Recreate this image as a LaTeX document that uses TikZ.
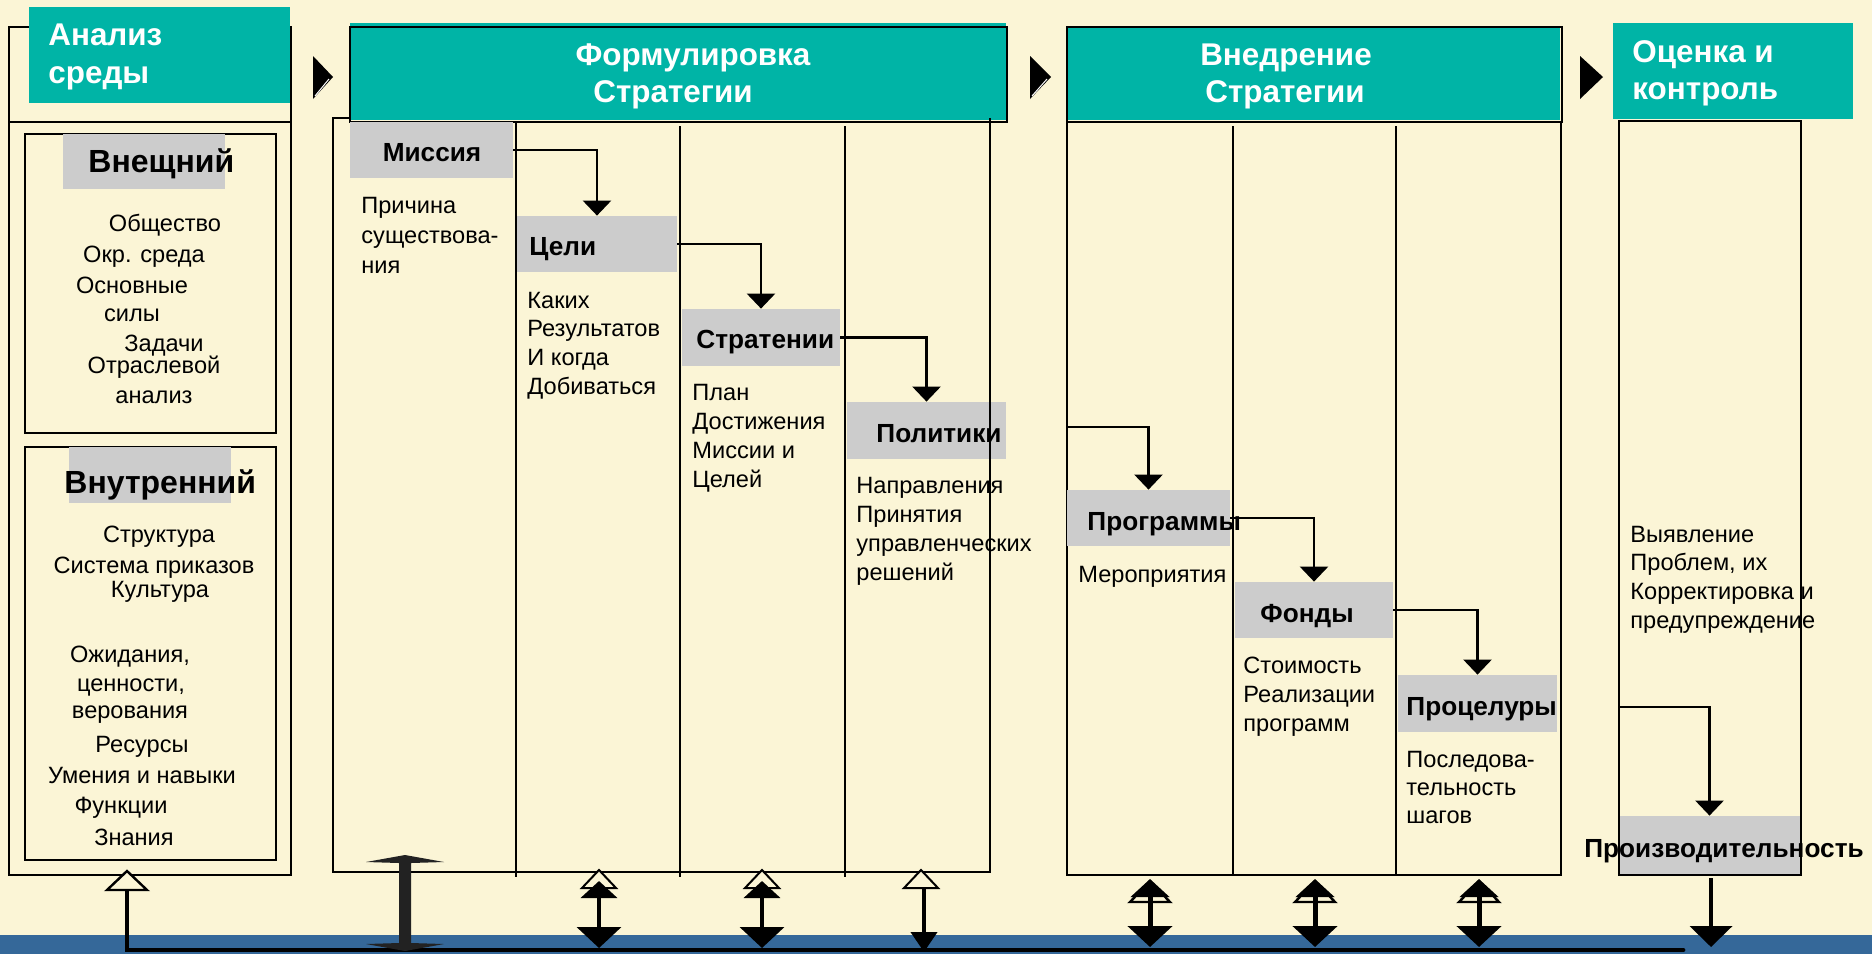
\documentclass[tikz,border=0pt]{standalone}
\usepackage{fontspec}
\setmainfont{Liberation Sans}
\usetikzlibrary{arrows.meta,fit}
\definecolor{bgc}{RGB}{251,245,214}
\definecolor{tealc}{RGB}{0,180,166}
\definecolor{lgray}{RGB}{204,204,204}
\definecolor{bandc}{RGB}{53,104,153}
\definecolor{darkarrow}{RGB}{34,34,34}
\begin{document}
\begin{tikzpicture}[x=0.5pt,y=-0.5pt,
  body/.style={font=\fontsize{11.8pt}{14pt}\selectfont, inner sep=0pt, anchor=base west},
  lab/.style={font=\bfseries\fontsize{13.1pt}{15pt}\selectfont, inner sep=0pt, anchor=base west},
  ttl/.style={font=\bfseries\fontsize{15.7pt}{18pt}\selectfont, text=white, inner sep=0pt},
  gbox/.style={fill=lgray, inner sep=0pt},
  tbox/.style={fill=tealc, inner sep=0pt},
  frame/.style={draw=black, line width=1.4pt},
  thinframe/.style={draw=black, line width=1.2pt},
  divl/.style={draw=black, line width=1pt},
  conn/.style={draw=black, line width=1.25pt, -{Triangle[width=14pt,length=7.5pt]}},
  hollow/.style={draw=black, line width=1pt, fill=bgc},
  dblF/.style={line width=2pt, {Triangle[width=18pt,length=8.5pt]}-{Triangle[width=22pt,length=10.5pt]}},
  dblI/.style={line width=2.5pt, {Triangle[width=19pt,length=9pt]}-{Triangle[width=22pt,length=10.5pt]}},
]
\useasboundingbox (0,0) rectangle (1872,954);
\fill[bgc] (0,0) rectangle (1872,954);
\fill[bandc] (0,935) rectangle (1872,954);

% ---------- Analysis column ----------
\draw[frame] (9,27) rectangle (291,875);
\draw[frame] (9,122) -- (291,122);
\node[tbox, fit={(29,7) (290,103)}] (hA) {};
\node[ttl, anchor=base west] (hA1) at (48,45) {Анализ};
\node[ttl, anchor=base west] (hA2) at (48,83) {среды};
\draw[thinframe] (25,134) rectangle (276,433);
\draw[thinframe] (25,447) rectangle (276,860);
\node[gbox, fit={(63,134) (225,189)}] (gExt) {};
\node[gbox, fit={(69,447) (231,503)}] (gInt) {};
\node[font=\bfseries\fontsize{16pt}{18pt}\selectfont, inner sep=0pt, anchor=base west] (tExt) at (88,172) {Внещний};
\node[font=\bfseries\fontsize{16pt}{18pt}\selectfont, inner sep=0pt, anchor=base west] (tInt) at (64,493) {Внутренний};
\foreach \x/\y/\t [count=\i] in {165/231/Общество, 144/262/Окр. среда, 132/293/Основные, 132/321/силы, 164/351/Задачи, 154/373/Отраслевой, 154/403/анализ}
  \node[body, anchor=base] (ext\i) at (\x,\y) {\t};
\foreach \x/\y/\t [count=\i] in {159/542/Структура, 154/573/Система приказов, 160/597/Культура, 130/662/Ожидания{,}, 131/691/ценности{,}, 130/718/верования, 142/752/Ресурсы, 142/783/Умения и навыки, 121/813/Функции, 134/845/Знания}
  \node[body, anchor=base] (int\i) at (\x,\y) {\t};

% header triangles
\fill (313,56) -- (313,99) -- (333,77) -- cycle;
\draw[white, line width=0.5pt] (329,79) -- (315,96);
\fill (1030,56) -- (1030,99) -- (1051,77) -- cycle;
\draw[white, line width=0.5pt] (1047,79) -- (1032,96);
\fill (1580,56) -- (1580,99) -- (1603,77) -- cycle;

% ---------- Formulation ----------
\draw[thinframe] (333,118) rectangle (990,872);
\node[tbox, fit={(350,23) (1006,120)}] (hF) {};
\draw[frame] (350,27) rectangle (1007,122);
\node[ttl, anchor=base] (hF1) at (693,65) {Формулировка};
\node[ttl, anchor=base] (hF2) at (673,102) {Стратегии};
\node[gbox, fit={(350,122) (513,178)}] (mis) {};
\node[gbox, fit={(517,216) (677,272)}] (cel) {};
\node[gbox, fit={(682,309) (840,366)}] (str) {};
\node[gbox, fit={(847,402) (1006,459)}] (pol) {};
\draw[divl] (516,122) -- (516,877);
\draw[divl] (680,126) -- (680,877);
\draw[divl] (845,126) -- (845,877);
\draw[thinframe] (990,118) -- (990,872);
\node[lab, anchor=base] (misT) at (432,161) {Миссия};
\node[lab] (celT) at (529,255) {Цели};
\node[lab] (strT) at (696,348) {Стратении};
\node[lab] (polT) at (876,442) {Политики};
\foreach \t [count=\i from 0] in {Причина, существова-, ния}
  \node[body] (mt\i) at (361,213+30*\i) {\t};
\foreach \t [count=\i from 0] in {Каких, Результатов, И когда, Добиваться}
  \node[body] (ct\i) at (527,308+28.7*\i) {\t};
\foreach \t [count=\i from 0] in {План, Достижения, Миссии и, Целей}
  \node[body] (st\i) at (692,400+29*\i) {\t};
\foreach \t [count=\i from 0] in {Направления, Принятия, управленческих, решений}
  \node[body] (pt\i) at (856,493+29*\i) {\t};
\draw[conn] (mis.east) -| (cel.north);
\draw[conn] (cel.east) -| (str.north);
\draw[conn] (str.east) -| (pol.north);

% ---------- Implementation ----------
\draw[thinframe] (1067,122) rectangle (1561,875);
\node[tbox, fit={(1067,27) (1560,120)}] (hI) {};
\draw[frame] (1067,27) rectangle (1562,122);
\node[ttl, anchor=base] (hI1) at (1286,65) {Внедрение};
\node[ttl, anchor=base] (hI2) at (1285,102) {Стратегии};
\node[gbox, fit={(1067,490) (1230,546)}] (prg) {};
\node[gbox, fit={(1235,582) (1393,638)}] (fnd) {};
\node[gbox, fit={(1398,675) (1557,732)}] (prc) {};
\draw[divl] (1233,126) -- (1233,875);
\draw[divl] (1396,126) -- (1396,875);
\node[lab] (prgT) at (1087,530) {Программы};
\node[lab] (fndT) at (1260,622) {Фонды};
\node[lab] (prcT) at (1406,715) {Процелуры};
\node[body] (mer) at (1078,582) {Мероприятия};
\foreach \t [count=\i from 0] in {Стоимость, Реализации, программ}
  \node[body] (ft\i) at (1243,673+29*\i) {\t};
\foreach \t [count=\i from 0] in {Последова-, тельность, шагов}
  \node[body] (rt\i) at (1406,767+28*\i) {\t};
\coordinate (vin) at (1067,427);
\draw[conn] (vin) -| (prg.north);
\draw[conn] (prg.east) -| (fnd.north);
\draw[conn] (fnd.east) -| (prc.north);

% ---------- Evaluation ----------
\node[tbox, fit={(1613,23) (1853,119)}] (hE) {};
\node[ttl, anchor=base west] (hE1) at (1632,62) {Оценка и};
\node[ttl, anchor=base west] (hE2) at (1632,99) {контроль};
\node[gbox, fit={(1619,816) (1800,875)}] (prz) {};
\draw[thinframe] (1619,121) rectangle (1801,875);
\node[lab, anchor=base] (przT) at (1724,857) {Производительность};
\foreach \t [count=\i from 0] in {Выявление, Проблем{,} их, Корректировка и, предупреждение}
  \node[body] (et\i) at (1630,542+28.7*\i) {\t};
\coordinate (ein) at (1619,707);
\draw[conn] (ein) -| (prz.north);

% ---------- bottom feedback ----------
\coordinate (busL) at (127,950);
\coordinate (busR) at (1683,950);
\coordinate (aIn) at (127,889);
\draw[line width=2.4pt, line cap=round] (busR) -- (busL) -- (aIn);
\draw[hollow, line width=1.2pt] (127,871) -- (107,890) -- (147,890) -- cycle;

% big double arrow
\fill[darkarrow] (405,855) -- (444,862) -- (411,863) -- (411,943) -- (444,944) -- (405,951)
  -- (366,944) -- (399,943) -- (399,863) -- (366,862) -- cycle;

\foreach \x [count=\i] in {599,762} {
  \draw[hollow] (\x,870) -- (\x-17,888) -- (\x+17,888) -- cycle;
  \coordinate (fa\i) at (\x,881);
  \coordinate (fb\i) at (\x,948);
  \draw[dblF] (fa\i) -- (fb\i);
}
\draw[hollow] (921,870) -- (904,888) -- (938,888) -- cycle;
\coordinate (fa3) at (924,888);
\coordinate (fb3) at (924,952);
\draw[line width=2pt, -{Triangle[width=13pt,length=10pt]}] (fa3) -- (fb3);

\foreach \x [count=\i] in {1150,1315,1479} {
  \draw[hollow, line width=1.2pt] (\x,881) -- (\x-20,902) -- (\x+20,902) -- cycle;
  \coordinate (ia\i) at (\x,879);
  \coordinate (ib\i) at (\x,947);
  \draw[dblI] (ia\i) -- (ib\i);
}
\coordinate (pa) at (1711,878);
\coordinate (pb) at (1711,947);
\draw[line width=2.2pt, -{Triangle[width=21pt,length=10.5pt]}] (pa) -- (pb);
\end{tikzpicture}
\end{document}
